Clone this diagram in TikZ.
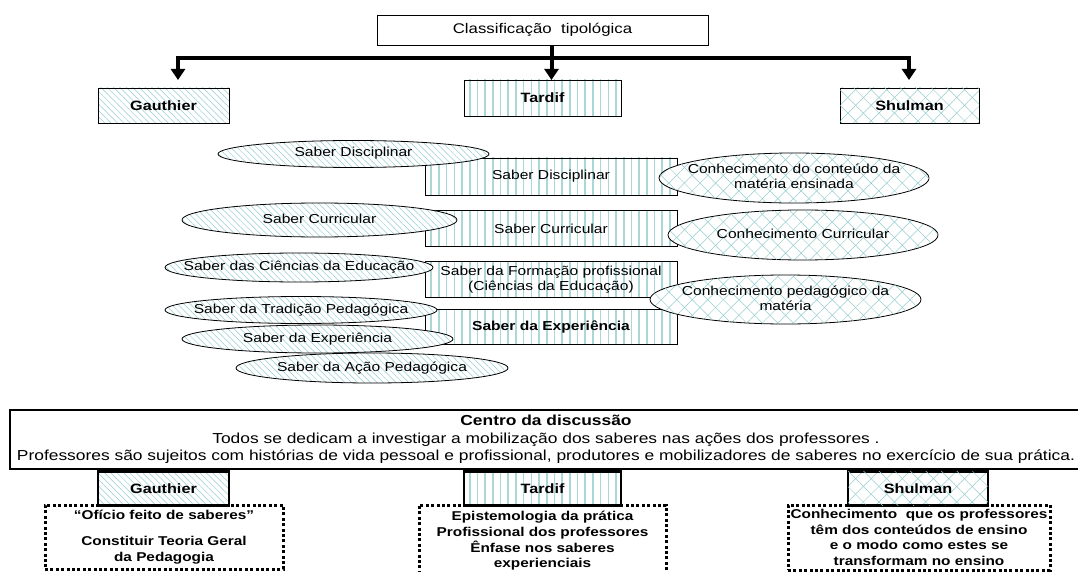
\documentclass[tikz,border=0pt]{standalone}
\usepackage{fontspec}
\setmainfont{Liberation Sans}[FakeStretch=1.2]
\usepackage{tikz}
\usetikzlibrary{arrows.meta,shapes.geometric,positioning,calc,patterns.meta}
\definecolor{hatch}{RGB}{150,205,205}
% text that does not widen its ellipse
\newcommand{\ctext}[1]{\makebox[0pt]{\begin{tabular}{@{}c@{}}#1\end{tabular}}}

\begin{document}
\begin{tikzpicture}[
    x=1pt, y=-1pt,
    txt/.style={font=\fontsize{13}{15}\selectfont},
    plain/.style={rectangle, draw, line width=0.8pt, fill=white, align=center, font=\fontsize{14}{16}\selectfont},
    gpat/.style={preaction={fill=white}, pattern={Lines[angle=-45,distance=4.5pt,line width=0.5pt]}, pattern color=hatch},
    tpat/.style={preaction={fill=white}, pattern={Lines[angle=90,distance=7.7pt,line width=1.6pt]}, pattern color=hatch!80},
    spat/.style={preaction={fill=white}, pattern={Lines[angle=45,distance=11pt,line width=0.5pt]}, pattern color=hatch,
        postaction={pattern={Lines[angle=-45,distance=11pt,line width=0.5pt]}, pattern color=hatch}},
    author/.style={rectangle, draw, line width=0.8pt, align=center, inner sep=0pt, font=\fontsize{13.5}{15}\selectfont\bfseries},
    bauthor/.style={author, line width=2.8pt, anchor=north},
    saber/.style={rectangle, draw, line width=0.8pt, tpat, align=center, inner sep=0pt, minimum width=252pt, minimum height=36pt, txt},
    gell/.style={ellipse, draw, line width=0.8pt, gpat, inner sep=0pt, minimum width=271pt, txt},
    sell/.style={ellipse, draw, line width=0.8pt, spat, inner sep=0pt, minimum width=270pt, minimum height=50pt, txt},
    dotbox/.style={rectangle, draw, line width=3pt, dash pattern=on 3pt off 2.4pt, align=center, inner sep=0pt,
        font=\fontsize{12.8}{15.7}\selectfont\bfseries},
    branch/.style={line width=4pt, -{Triangle[width=14pt,length=11pt]}}
]
    \useasboundingbox (0,0) rectangle (1078,572);

    % classificacao
    \node[plain, minimum width=331pt, minimum height=30pt] (cls) at (542.5,30) {Classificação\ \ tipológica};
    \node[author, gpat, minimum width=131pt, minimum height=35pt] (gauthier) at (163.5,105.5) {Gauthier};
    \node[author, tpat, minimum width=157pt, minimum height=36pt] (tardif) at (542.5,98) {Tardif};
    \node[author, spat, minimum width=139pt, minimum height=35pt] (shulman) at (909.5,105.5) {Shulman};

    \coordinate (hub) at (551.5,58);
    \coordinate (gtip) at (178,80);
    \coordinate (ttip) at (551.5,80);
    \coordinate (stip) at (909,80);
    \draw[line width=4pt] (cls.south -| hub) -- (hub);
    \draw[branch] (hub) -| (gtip);
    \draw[branch] (hub) -| (stip);
    \draw[branch] (hub) -- (ttip);

    % saberes de Tardif
    \node[saber, minimum height=37pt] (tdisc) at (551,176.5) {Saber Disciplinar};
    \node[saber, below=15pt of tdisc] (tcurr) {Saber Curricular};
    \node[saber, below=14pt of tcurr] (tform) {Saber da Formação profissional\\(Ciências da Educação)};
    \node[saber, below=11pt of tform, minimum height=35pt, font=\fontsize{13}{15}\selectfont\bfseries] (texp) {Saber da Experiência};

    % saberes de Gauthier
    \node[gell, minimum height=27pt] (gdisc) at (353.5,154) {\ctext{Saber Disciplinar}};
    \node[gell, minimum width=275pt, minimum height=34pt] (gcurr) at (319.5,220) {\ctext{Saber Curricular}};
    \node[gell, minimum width=268pt, minimum height=29pt] (gcien) at (299,267.5) {\ctext{Saber das Ciências da Educação}};
    \node[gell, minimum width=272pt, minimum height=27pt] (gtrad) at (301,310) {\ctext{Saber da Tradição Pedagógica}};
    \node[gell, minimum height=28pt] (gexp) at (317.5,339) {\ctext{Saber da Experiência}};
    \node[gell, minimum width=272pt, minimum height=30pt] (gacao) at (372,368) {\ctext{Saber da Ação Pedagógica}};

    % conhecimentos de Shulman
    \node[sell] (sconteudo) at (794,178) {\ctext{Conhecimento do conteúdo da\\matéria ensinada}};
    \node[sell] (scurr) at (803,235) {\ctext{Conhecimento Curricular}};
    \node[sell, minimum width=271pt, minimum height=49pt] (speda) at (785.5,299.5) {\ctext{Conhecimento pedagógico da\\matéria}};

    % centro da discussao
    \node[rectangle, draw, line width=2.8pt, align=center, inner sep=0pt, minimum width=1072pt, minimum height=59pt,
        font=\fontsize{14.5}{17.5}\selectfont] (centro) at (546,439.5)
        {\textbf{Centro da discussão}\\Todos se dedicam a investigar a mobilização dos saberes nas ações dos professores .\\Professores são sujeitos com histórias de vida pessoal e profissional, produtores e mobilizadores de saberes no exercício de sua prática.};

    \coordinate (scol) at (918,0);
    \node[bauthor, gpat, minimum width=131pt, minimum height=34pt] (gauthierb) at (centro.south -| gauthier) {Gauthier};
    \node[bauthor, tpat, minimum width=157pt, minimum height=34pt] (tardifb) at (centro.south -| tardif) {Tardif};
    \node[bauthor, spat, minimum width=140pt, minimum height=34pt] (shulmanb) at (centro.south -| scol) {Shulman};

    \node[dotbox, minimum width=238pt, minimum height=64pt] (gdot) at (164,537) {“Ofício feito de saberes”\\[10pt]Constituir Teoria Geral\\da Pedagogia};
    \node[dotbox, minimum width=247pt, minimum height=72pt] (tdot) at (542.5,541) {Epistemologia da prática\\Profissional dos professores\\Ênfase nos saberes\\experienciais};
    \node[dotbox, minimum width=262pt, minimum height=65pt] (sdot) at (919,537.5) {Conhecimento\ \ que os professores\\têm dos conteúdos de ensino\\e o modo como estes se\\transformam no ensino};
\end{tikzpicture}
\end{document}
